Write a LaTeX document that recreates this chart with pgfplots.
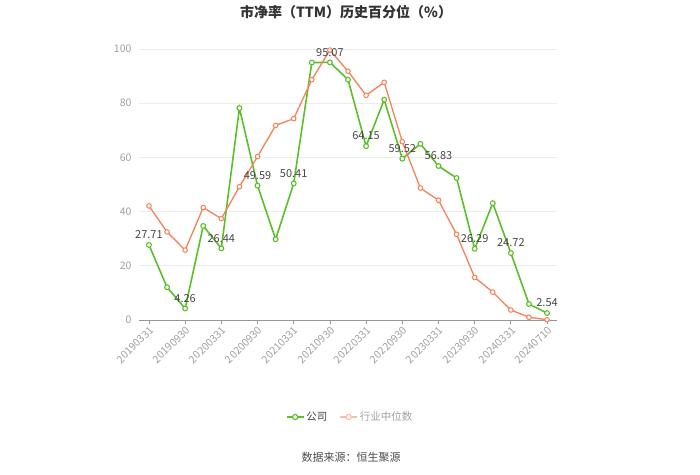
\documentclass[border=0pt]{standalone}
\usepackage{pgfplots}
\pgfplotsset{compat=1.18}
\usepackage{fontspec}
\setmainfont{Noto Sans CJK SC}
\definecolor{cgreen}{RGB}{92,190,42}
\definecolor{corange}{RGB}{244,130,88}
\definecolor{corangelt}{RGB}{246,190,168}
\definecolor{tickgray}{RGB}{160,160,160}
\definecolor{gridgray}{RGB}{236,236,240}
\definecolor{axisgray}{RGB}{150,150,150}
\definecolor{labgray}{RGB}{70,70,70}

\pgfplotstableread{
x  comp   ind
0  27.71  42.1
1  12.1   32.5
2  4.26   25.8
3  34.7   41.5
4  26.44  37.4
5  78.2   49.2
6  49.59  60.3
7  29.8   71.8
8  50.41  74.3
9  95.0   88.7
10 95.07  99.6
11 88.7   91.8
12 64.15  82.9
13 81.3   87.7
14 59.52  65.8
15 65.0   48.7
16 56.83  44.2
17 52.4   31.6
18 26.29  15.7
19 43.1   10.3
20 24.72  3.7
21 5.9    1.0
22 2.54   0.1
}\datatable

\begin{document}
\begin{tikzpicture}[x=1pt,y=1pt]
\path[use as bounding box] (0,0) rectangle (700,474);
\node[font=\bfseries\fontsize{14}{16}\selectfont, text=black!80] at (346,462) {市净率（TTM）历史百分位（\%）};
\node[font=\fontsize{11}{13}\selectfont, text=black!70] at (351,17) {数据来源：恒生聚源};
\begin{axis}[
  at={(139pt,154pt)}, anchor=south west,
  scale only axis, width=418pt, height=271pt,
  xmin=-0.55, xmax=22.55, ymin=0, ymax=100,
  ytick={0,20,...,100},
  xtick={0,2,...,22},
  xticklabels={20190331,20190930,20200331,20200930,20210331,20210930,20220331,20220930,20230331,20230930,20240331,20240710},
  ymajorgrids, grid style={gridgray, line width=0.8pt},
  axis x line*=bottom, axis y line*=left,
  x axis line style={axisgray, line width=0.8pt, -},
  y axis line style={draw=none},
  xtick style={axisgray, line width=0.8pt},
  ytick style={draw=none},
  tick align=outside,
  major tick length=4pt,
  /pgf/number format/assume math mode=true,
  x tick label style={rotate=45, anchor=north east, font=\fontsize{10.5}{12}\selectfont, text=tickgray, inner sep=1pt},
  y tick label style={font=\fontsize{10.5}{12}\selectfont, text=tickgray},
  legend columns=2,
  legend style={draw=none, fill=none, at={(0.505,-0.358)}, anchor=center,
    font=\fontsize{10.5}{12}\selectfont, /tikz/every even column/.append style={column sep=10pt}},
  legend cell align=left,
]
\addlegendimage{cgreen, line width=1.6pt, mark=*, mark options={fill=white, draw=cgreen, line width=1.2pt, scale=1.3}}
\addlegendentry{\textcolor{black!75}{公司}}
\addlegendimage{corangelt, line width=1.3pt, mark=*, mark options={fill=white, draw=corangelt, line width=1.1pt, scale=1.3}}
\addlegendentry{\textcolor{tickgray}{行业中位数}}

\addplot[forget plot, cgreen, line width=1.6pt, mark=*, mark size=2.4pt,
  mark options={fill=white, draw=cgreen, line width=1.1pt}] table[x=x, y=comp] {\datatable};
\addplot[forget plot, corange, line width=1.3pt, mark=*, mark size=2.3pt,
  mark options={fill=white, draw=corange, line width=1pt}] table[x=x, y=ind] {\datatable};

\addplot[forget plot, draw=none, mark=none, nodes near coords, point meta=explicit symbolic,
  nodes near coords style={font=\fontsize{11}{13}\selectfont, text=labgray, anchor=south, yshift=2.5pt}]
  coordinates {
  (0,27.71) [27.71]
  (2,4.26) [4.26]
  (4,26.44) [26.44]
  (6,49.59) [49.59]
  (8,50.41) [50.41]
  (10,95.07) [95.07]
  (12,64.15) [64.15]
  (14,59.52) [59.52]
  (16,56.83) [56.83]
  (18,26.29) [26.29]
  (20,24.72) [24.72]
  (22,2.54) [2.54]
  };
\end{axis}
\end{tikzpicture}
\end{document}
